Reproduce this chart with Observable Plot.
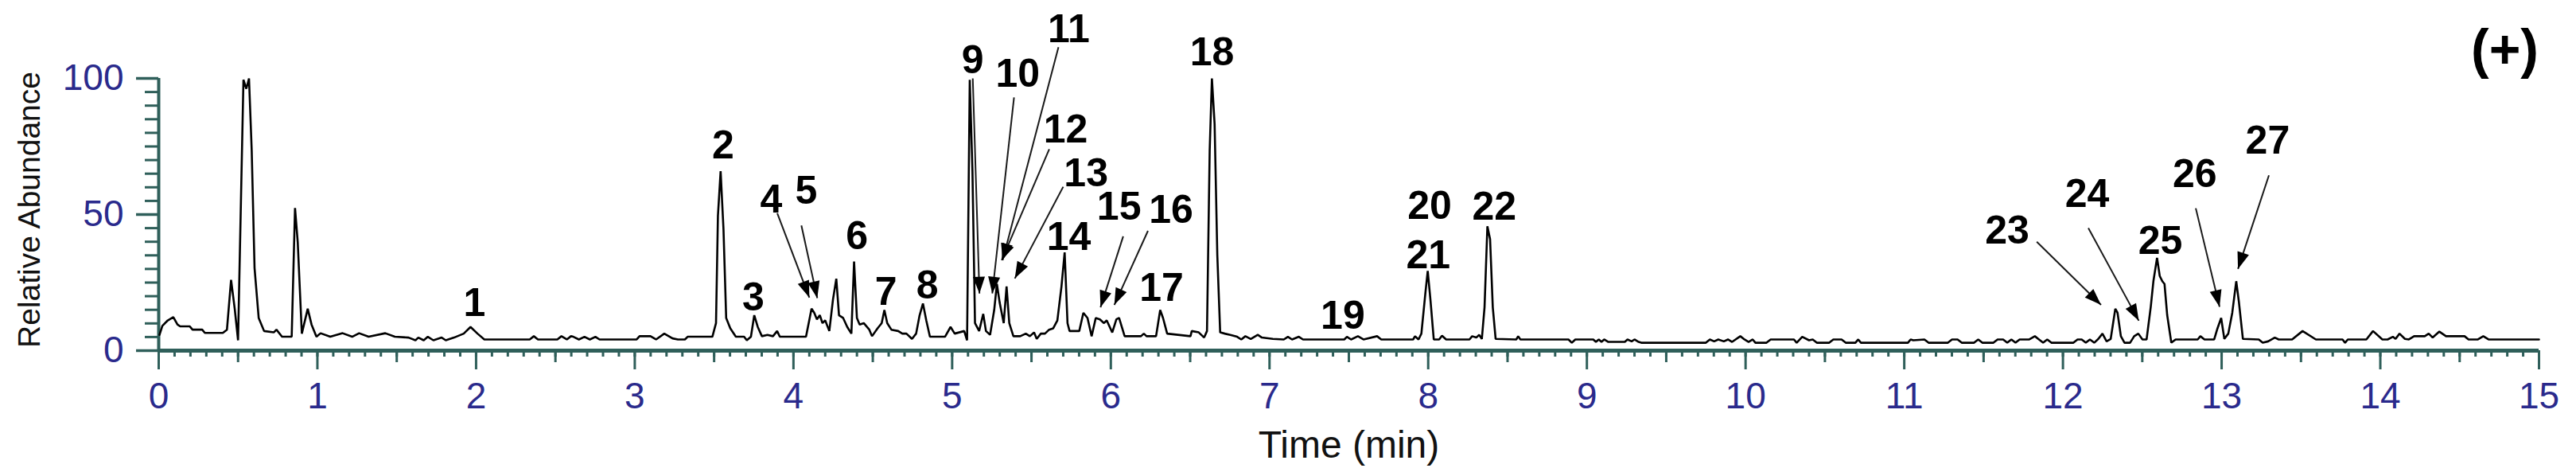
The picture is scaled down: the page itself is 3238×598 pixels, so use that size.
<!DOCTYPE html>
<html>
<head>
<meta charset="utf-8">
<script src="https://cdn.jsdelivr.net/npm/d3@7"></script>
<script src="https://cdn.jsdelivr.net/npm/@observablehq/plot@0.6"></script>
<style>
  html, body { margin: 0; padding: 0; background: #ffffff; }
  #chart svg { display: block; }
</style>
</head>
<body>
<div id="chart"></div>
<script>
// ---- chromatogram trace (time in min, relative abundance in %) ----
const time = [
  0.005,0.023,0.057,0.092,0.118,0.135,0.196,0.213,0.274,0.291,0.404,0.43,0.456,0.479,0.50,0.534,0.552,0.569,0.586,0.604,0.63,0.664,0.725,0.742,0.777,0.838,0.859,0.876,0.902,0.939,0.963,0.994,
  1.02,1.081,1.159,1.219,1.263,1.323,1.428,1.488,1.575,1.618,1.636,1.67,1.696,1.731,1.783,1.809,1.861,1.922,1.965,2.009,2.052,2.338,2.364,2.39,2.512,2.538,2.572,2.598,
  2.613,2.648,2.683,2.717,2.752,2.778,3.012,3.03,3.099,3.134,3.186,3.238,3.272,3.316,3.333,3.489,3.512,3.524,3.541,3.559,3.576,3.602,3.637,3.689,3.706,3.732,3.753,3.775,3.801,3.836,3.871,3.897,3.914,
  4.079,4.096,4.114,4.131,4.148,4.166,4.183,4.2,4.226,4.249,4.27,4.287,4.313,4.339,4.365,4.382,4.4,4.417,4.443,4.478,4.495,4.53,4.556,4.573,4.591,4.617,4.66,4.686,4.712,4.747,4.773,4.795,4.816,4.837,4.86,4.955,4.99,
  5.016,5.076,5.094,5.111,5.128,5.144,5.17,5.196,5.213,5.239,5.265,5.282,5.299,5.325,5.343,5.36,5.386,5.429,5.464,5.49,5.516,5.533,5.559,5.585,5.611,5.637,5.663,5.689,5.709,5.727,5.74,5.801,5.827,5.853,5.879,5.905,5.931,5.957,5.974,
  6.009,6.035,6.052,6.087,6.19,6.208,6.225,6.285,6.311,6.329,6.355,6.502,6.51,6.554,6.588,6.606,6.623,6.637,6.654,6.671,6.689,6.718,6.753,6.796,6.822,6.848,6.882,6.926,6.952,
  7.021,7.09,7.116,7.142,7.185,7.211,7.471,7.488,7.514,7.557,7.592,7.678,7.704,7.905,7.917,7.939,7.957,7.983,7.997,
  8.014,8.035,8.069,8.087,8.113,8.26,8.277,8.303,8.321,8.338,8.355,8.373,8.39,8.407,8.425,8.555,8.567,8.581,8.884,8.905,8.927,
  9.04,9.057,9.075,9.092,9.109,9.135,9.239,9.256,9.282,9.3,9.326,9.343,9.75,9.775,9.802,9.828,9.863,9.889,9.915,9.967,9.993,
  10.019,10.045,10.062,10.132,10.158,10.305,10.322,10.357,10.4,10.423,10.449,10.527,10.553,10.605,10.631,10.692,10.71,10.727,
  11.023,11.04,11.057,11.127,11.153,11.275,11.301,11.336,11.362,11.44,11.466,11.492,11.562,11.588,11.623,11.649,11.675,11.701,11.727,11.788,11.823,11.849,11.875,11.901,11.927,
  12.066,12.092,12.118,12.144,12.17,12.197,12.223,12.249,12.275,12.301,12.33,12.344,12.365,12.388,12.423,12.449,12.475,12.501,12.527,12.553,12.57,12.593,12.61,12.626,12.64,12.657,12.683,12.71,12.849,12.866,12.892,12.953,12.974,12.997,
  13.017,13.042,13.067,13.092,13.109,13.134,13.234,13.259,13.293,13.335,13.36,13.444,13.51,13.594,13.762,13.778,13.795,13.912,13.954,
  14.013,14.046,14.079,14.096,14.121,14.155,14.18,14.213,14.28,14.305,14.33,14.372,14.414,14.531,14.556,14.615,14.649,14.682,15.0
];
const abundance = [
  5.8,9.1,11.1,12.3,9.6,8.9,8.9,7.7,7.7,6.5,6.5,7.7,26,15.4,3.8,99.5,96.2,100,73.6,30.3,12,7.2,6.7,7.7,5.1,5.1,52.4,39.9,6.25,15.4,9.6,5.1,
  6.4,5.1,6.4,5.1,6.4,5.1,6.4,5.1,4.8,3.8,4.8,3.8,5.1,3.8,4.8,3.8,4.8,6.25,8.7,6.25,4.1,4.1,5.3,4.1,4.1,5.3,4.1,5.3,
  5.1,4.1,5.1,4.1,5.1,4.1,4.1,5.3,5.3,4.1,6.25,4.5,4.1,4.1,5.1,5.1,10.1,49.5,65.9,44.7,12,8.2,5.1,5.1,3.8,5.1,13,8.7,5.3,5.8,5.3,7.2,5.1,
  5.1,10.1,15.4,13.9,11.5,13,10.1,11.1,7.2,18.75,26.4,13,12,8.7,6.25,32.7,12,9.6,10.1,7.7,5.3,8.2,10.1,14.9,10.1,7.7,7.2,6.25,6.25,4.3,6.25,13,17.3,11.1,5.1,5.1,8.7,
  6.25,7.2,3.8,99.5,65.9,10.1,7.2,13.5,7.2,5.8,14.9,24.5,17.8,10.1,23.6,10.1,5.3,5.3,6.25,5.3,6.7,4.3,6.25,6.25,7.7,8.2,11.1,23.6,36.1,10.1,7.2,7.2,13.9,12,5.3,12,11.5,10.1,11.1,
  6.7,11.5,12,5.3,5.3,6.25,5.3,5.3,14.9,12,6.25,5.3,7.2,6.7,4.8,7.2,73.6,100,83.2,35.1,6.7,6.25,5.8,5.1,4.1,5.3,4.3,5.8,4.8,
  4.3,4.1,5.1,4.1,5.1,4.1,4.1,5.1,4.1,5.3,4.1,5.3,4.1,4.1,5.3,4.1,6.25,21.6,29.3,
  18.75,4.1,4.1,5.5,4.1,4.1,5.3,4.8,5.8,4.3,15.9,45.7,40.9,15.9,4.3,4.1,5.3,4.1,4.1,2.9,4.1,
  4.1,3.2,4.1,3.2,4.1,3.2,3.2,4.1,3.4,4.1,3.2,2.9,2.9,4.1,3.4,4.1,3.4,4.1,3.2,5.3,4.1,
  3.2,4.1,2.9,2.9,4.1,4.1,2.9,5.1,3.8,4.1,2.9,2.9,4.1,4.1,2.9,2.9,4.1,2.9,
  2.9,4.1,3.8,4.1,2.9,2.9,4.1,4.1,2.9,2.9,4.1,2.9,2.9,4.1,4.1,2.9,4.1,2.9,4.1,4.1,5.3,4.1,2.9,4.1,2.9,
  2.9,4.1,4.1,2.9,4.1,2.9,4.3,6.25,3.4,4.3,15.4,13.9,5.3,2.9,2.9,5.3,6.25,4.1,4.1,15.9,25.5,34.1,27.4,25.5,24.5,13,2.9,4.1,4.1,5.3,4.1,4.1,8.2,12,
  4.3,6.25,13.9,25.5,17.8,4.3,4.1,2.9,3.4,4.8,4.1,4.1,7.2,4.1,4.1,2.9,4.1,4.1,7.2,
  4.1,4.1,5.1,4.3,6.25,4.3,4.1,5.3,5.3,6.25,4.8,7.0,5.3,5.3,4.1,4.1,5.3,4.1,4.1
];

// ---- peak labels ----
const peakIds = ["1","2","3","4","5","6","7","8","9","10","11","12","13","14","15","16","17","18","19","20","21","22","23","24","25","26","27"];
const peakLabelTime = [1.99,3.557,3.747,3.86,4.08,4.40,4.583,4.844,5.13,5.413,5.735,5.715,5.844,5.735,6.052,6.38,6.32,6.638,7.462,8.009,8.0,8.416,11.649,12.153,12.614,12.831,13.29];
const peakLabelLevel = [17.5,75.3,19.3,55.5,58.6,42.1,21.4,23.8,106.5,101.5,118,81,65.2,41.6,52.7,51.7,22.9,109.4,12.8,53.2,34.9,52.7,44,57.5,40.2,64.7,77];

// ---- arrows (label -> peak) ----
const arrowIds   = ["4","5","9","10","11","12","13","15","16","23","24","26","27"];
const arrowFromT = [3.898,4.05,5.13,5.39,5.67,5.612,5.70,6.078,6.234,11.835,12.16,12.837,13.298];
const arrowFromV = [50.5,46,100,93,111.5,74,60.2,42,44,40,45,52.3,64.4];
const arrowToT   = [4.10,4.15,5.172,5.253,5.318,5.312,5.395,5.935,6.022,12.24,12.478,12.987,13.103];
const arrowToV   = [19.5,19.3,21,21,33.2,33.2,26.5,15.9,16.8,16.8,11,16.1,30];

// ---- axes ----
const xDomain = [0, 15];
const yDomain = [0, 100];
const xMajorTicks = [0,1,2,3,4,5,6,7,8,9,10,11,12,13,14,15];
const xHalfTicks = [0.5,1.5,2.5,3.5,4.5,5.5,6.5,7.5,8.5,9.5,10.5,11.5,12.5,13.5,14.5];
const xMinorTicks = d3.range(0, 150).map(i => i / 10);
const yMajorTicks = [0, 50, 100];
const yMinorTicks = [5,10,15,20,25,30,35,40,45,55,60,65,70,75,80,85,90,95];
const xTitle = "Time (min)";
const yTitle = "Relative Abundance";
const modeLabel = "(+)";

// ---- layout / style ----
const W = 3238, H = 598, mL = 199, mR = 47, mT = 98, mB = 158;
const axisColor = "#2f5f5a";
const tickLabelColor = "#2a2a8c";
const font = "'Liberation Sans', Arial, Helvetica, sans-serif";

const trace = time.map((t, i) => ({t, v: abundance[i]}));
const peaks = peakIds.map((id, i) => ({id, t: peakLabelTime[i], v: peakLabelLevel[i]}));
const arrows = arrowIds.map((id, i) => ({id, x1: arrowFromT[i], y1: arrowFromV[i], x2: arrowToT[i], y2: arrowToV[i]}));

const pxPerMin = (W - mL - mR) / (xDomain[1] - xDomain[0]);
const pxPerUnit = (H - mB - mT) / (yDomain[1] - yDomain[0]);

// filled arrowhead, apex at the origin pointing up
const arrowHead = {
  draw(context, size) {
    const r = Math.sqrt(size / Math.PI);
    context.moveTo(0, 0);
    context.lineTo(-0.36 * r, r);
    context.lineTo(0.36 * r, r);
    context.closePath();
  }
};

const chart = Plot.plot({
  width: W,
  height: H,
  marginLeft: mL,
  marginRight: mR,
  marginTop: mT,
  marginBottom: mB,
  x: {domain: xDomain, axis: null},
  y: {domain: yDomain, axis: null},
  style: {fontFamily: font, background: "#ffffff", overflow: "visible"},
  marks: [
    // x ticks
    Plot.axisX({ticks: xMinorTicks, tickSize: 8, stroke: axisColor, strokeWidth: 3, fill: "none", tickFormat: () => "", label: null}),
    Plot.axisX({ticks: xHalfTicks, tickSize: 15, stroke: axisColor, strokeWidth: 3, fill: "none", tickFormat: () => "", label: null}),
    Plot.axisX({ticks: xMajorTicks, tickSize: 24, tickPadding: 16, stroke: axisColor, strokeWidth: 3, fill: tickLabelColor, fontSize: 46, tickFormat: d => String(d), label: null}),
    // y ticks
    Plot.axisY({ticks: yMinorTicks, tickSize: 17, stroke: axisColor, strokeWidth: 3, fill: "none", tickFormat: () => "", label: null}),
    Plot.axisY({ticks: yMajorTicks, tickSize: 28, tickPadding: 16, stroke: axisColor, strokeWidth: 3.5, fill: tickLabelColor, fontSize: 46, tickFormat: d => String(d), label: null}),
    // spines
    Plot.ruleY([0], {stroke: axisColor, strokeWidth: 5}),
    Plot.ruleX([0], {stroke: axisColor, strokeWidth: 4}),
    // trace
    Plot.line(trace, {x: "t", y: "v", stroke: "#000000", strokeWidth: 2.6, strokeLinejoin: "miter", curve: "linear"}),
    // arrows
    Plot.link(arrows, {x1: "x1", y1: "y1", x2: "x2", y2: "y2", stroke: "#1a1a1a", strokeWidth: 2}),
    Plot.dot(arrows, {
      x: "x2", y: "y2", symbol: arrowHead, r: 21, fill: "#000000", stroke: "none",
      rotate: d => Math.atan2((d.x2 - d.x1) * pxPerMin, (d.y2 - d.y1) * pxPerUnit) * 180 / Math.PI
    }),
    // peak labels
    Plot.text(peaks, {x: "t", y: "v", text: "id", fontSize: 50, fontWeight: "bold", fill: "#000000"}),
    // titles
    Plot.text([xTitle], {text: d => d, frameAnchor: "bottom", dy: 119, lineAnchor: "middle", textAnchor: "middle", fontSize: 48, fill: "#111111"}),
    Plot.text([yTitle], {text: d => d, frameAnchor: "left", dx: -162, dy: -6, rotate: -90, lineAnchor: "middle", textAnchor: "middle", fontSize: 39, fill: "#111111"}),
    Plot.text([modeLabel], {text: d => d, frameAnchor: "top-right", dx: -43, dy: -35, lineAnchor: "middle", textAnchor: "middle", fontSize: 68, fontWeight: "bold", fill: "#000000"})
  ]
});

document.getElementById("chart").appendChild(chart);
</script>
</body>
</html>
